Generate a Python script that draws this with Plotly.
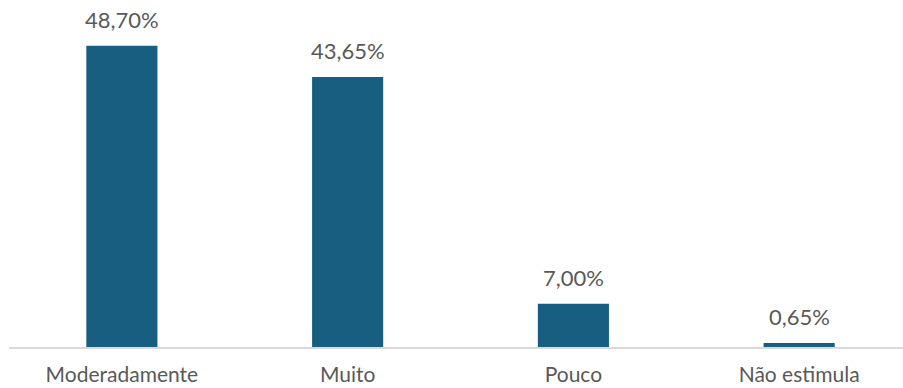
import plotly.graph_objects as go

categories = ["Moderadamente", "Muito", "Pouco", "Não estimula"]
values = [48.70, 43.65, 7.00, 0.65]
labels = [f"{v:.2f}%".replace(".", ",") for v in values]

fig = go.Figure()
fig.add_trace(go.Bar(
    x=categories, y=values,
    marker=dict(color="#185E80", line=dict(width=0)),
    width=0.315,
    hoverinfo="skip",
))
for c, v, t in zip(categories, values, labels):
    fig.add_annotation(x=c, y=v, text=t, showarrow=False, yanchor="bottom",
                       yshift=11, font=dict(family="Lato", size=22, color="#595959"))

fig.update_layout(
    width=903, height=388,
    margin=dict(l=9, r=0, t=0, b=41, autoexpand=False),
    plot_bgcolor="white", paper_bgcolor="white",
    showlegend=False,
    xaxis=dict(range=[-0.5, 3.46], showline=True, linecolor="#d9d9d9", linewidth=2,
               showgrid=False, ticks="", ticklabelstandoff=8, automargin=False,
               tickfont=dict(family="Lato", size=21, color="#595959")),
    yaxis=dict(range=[0, 56.1], visible=False, showgrid=False, automargin=False),
)
fig.write_html("out.html", config={"displayModeBar": False},
               post_script="document.body.style.margin='0px';document.body.style.overflow='hidden';")
